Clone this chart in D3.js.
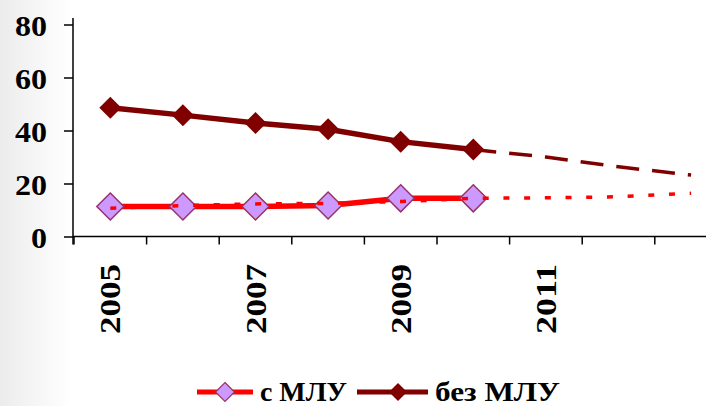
<!DOCTYPE html>
<html><head><meta charset="utf-8">
<script src="https://cdn.jsdelivr.net/npm/d3@7"></script>
<style>html,body{margin:0;padding:0;background:#fff;}svg{display:block;}</style>
</head><body>
<script>
const years = ["2005","2006","2007","2008","2009","2010","2011","2012","2013"];
const yearLabels = ["2005","2007","2009","2011"];
const yTicks = [0,20,40,60,80];
// с МЛУ (actual, solid with markers)
const withMDR = [11.3, 11.3, 11.3, 11.7, 14.4, 14.4];
// с МЛУ trend (dotted)
const withMDRTrend = [10.7, 11.7, 12.3, 12.5, 13.2, 14.4, 14.6, 15.0, 16.3];
// без МЛУ (actual, solid with markers)
const withoutMDR = [48.6, 45.8, 42.8, 40.5, 35.8, 32.8];
// без МЛУ forecast (dashed), 2010–2013
const withoutMDRForecast = [32.8, 30.0, 26.3, 23.2];
const legendNames = ["с МЛУ", "без МЛУ"];

const W = 706, H = 406;
const svg = d3.select("body").append("svg").attr("width", W).attr("height", H);
const defs = svg.append("defs");
const grad = defs.append("linearGradient").attr("id","bg").attr("x1","0").attr("x2","1").attr("y1","0").attr("y2","0");
grad.append("stop").attr("offset","0").attr("stop-color","#ececec");
grad.append("stop").attr("offset","0.1").attr("stop-color","#ffffff");
grad.append("stop").attr("offset","1").attr("stop-color","#ffffff");
svg.append("rect").attr("width",W).attr("height",H).attr("fill","url(#bg)");

const x = d3.scaleBand().domain(years).range([74, 74 + 9*72.6]).paddingInner(0).paddingOuter(0);
const cx = d => x(d) + x.bandwidth()/2;
const y = d3.scaleLinear().domain([0, 80]).range([236.5, 24.5]);

const font = "'Liberation Serif','Times New Roman',serif";

// Y axis
const yAxis = svg.append("g").attr("transform","translate(73,0)")
  .call(d3.axisLeft(y).tickValues(yTicks).tickSize(9).tickPadding(0).tickFormat(d3.format("d")));
yAxis.select(".domain").remove();
yAxis.append("line").attr("x1",0).attr("x2",0).attr("y1",y(0)+8).attr("y2",y(82.5)).attr("stroke","#000").attr("stroke-width",1.5);
yAxis.selectAll(".tick line").attr("stroke","#000").attr("stroke-width",1.5);
yAxis.selectAll(".tick text")
  .attr("x",-26).attr("dy","0.35em")
  .attr("font-family",font).attr("font-weight","bold").attr("font-size",30)
  .attr("fill","#000").attr("text-anchor","end")
  .attr("textLength", d => String(d).length*16).attr("lengthAdjust","spacingAndGlyphs");

// X axis
const xg = svg.append("g");
xg.append("line").attr("x1",73).attr("x2",W).attr("y1",y(0)).attr("y2",y(0)).attr("stroke","#000").attr("stroke-width",1.5);
xg.selectAll("line.tk").data(years).enter().append("line").attr("class","tk")
  .attr("x1",d=>x(d)).attr("x2",d=>x(d)).attr("y1",y(0)).attr("y2",y(0)+8)
  .attr("stroke","#000").attr("stroke-width",1.5);
xg.selectAll("text").data(yearLabels).enter().append("text")
  .attr("transform", d => `translate(${cx(d)+10},334) rotate(-90)`)
  .attr("text-anchor","start")
  .attr("font-family",font).attr("font-weight","bold").attr("font-size",30)
  .attr("textLength",70).attr("lengthAdjust","spacingAndGlyphs")
  .text(d=>d);

const line = d3.line().x(d=>cx(d[0])).y(d=>y(d[1]));
const pairs = (vals, start) => vals.map((v,i)=>[years[start+i], v]);

// без МЛУ
svg.append("path").datum(pairs(withoutMDRForecast,5)).attr("d",line)
  .attr("fill","none").attr("stroke","#800000").attr("stroke-width",3.5).attr("stroke-dasharray","23,13");
svg.append("path").datum(pairs(withoutMDR,0)).attr("d",line)
  .attr("fill","none").attr("stroke","#800000").attr("stroke-width",5.5).attr("stroke-linejoin","round");
const diamond = s => `M0,${-s}L${s},0L0,${s}L${-s},0Z`;
svg.selectAll("path.dm").data(pairs(withoutMDR,0)).enter().append("path").attr("class","dm")
  .attr("transform", d=>`translate(${cx(d[0])},${y(d[1])})`)
  .attr("d", diamond(11)).attr("fill","#800000");

// с МЛУ
svg.append("path").datum(pairs(withMDR,0)).attr("d",line)
  .attr("fill","none").attr("stroke","#ff0000").attr("stroke-width",5.5).attr("stroke-linejoin","round");
svg.selectAll("path.pm").data(pairs(withMDR,0)).enter().append("path").attr("class","pm")
  .attr("transform", d=>`translate(${cx(d[0])},${y(d[1])})`)
  .attr("d", diamond(13.5)).attr("fill","#cc99ff").attr("stroke","#993366").attr("stroke-width",1.5);
svg.append("path").datum(pairs(withMDRTrend,0)).attr("d",line)
  .attr("fill","none").attr("stroke","#ff0000").attr("stroke-width",3.5).attr("stroke-dasharray","6,14.7");

// Legend
const lg = svg.append("g");
lg.append("line").attr("x1",197).attr("x2",253).attr("y1",392).attr("y2",392).attr("stroke","#ff0000").attr("stroke-width",5);
lg.append("path").attr("transform","translate(225,392)").attr("d",diamond(9.5)).attr("fill","#cc99ff").attr("stroke","#993366").attr("stroke-width",1.2);
lg.append("text").attr("x",260).attr("y",401).attr("font-family",font).attr("font-weight","bold").attr("font-size",28)
  .attr("textLength",87).attr("lengthAdjust","spacingAndGlyphs").text(legendNames[0]);
lg.append("line").attr("x1",357).attr("x2",428).attr("y1",392).attr("y2",392).attr("stroke","#800000").attr("stroke-width",5);
lg.append("path").attr("transform","translate(398,392)").attr("d",diamond(9)).attr("fill","#800000");
lg.append("text").attr("x",435).attr("y",401).attr("font-family",font).attr("font-weight","bold").attr("font-size",28)
  .attr("textLength",125).attr("lengthAdjust","spacingAndGlyphs").text(legendNames[1]);
</script>
</body></html>
